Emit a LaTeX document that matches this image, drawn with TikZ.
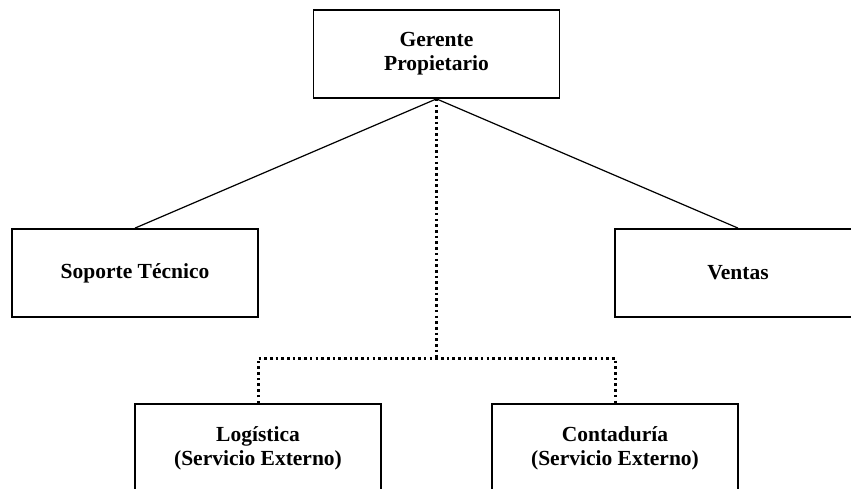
\documentclass[tikz,border=0pt]{standalone}
\usepackage{fontspec}
\setmainfont{Liberation Serif}
\usepackage{tikz}
\usetikzlibrary{positioning}

\begin{document}
\begin{tikzpicture}[x=1pt,y=-1pt,line width=1.2pt,
                    font=\bfseries\fontsize{21.5}{24}\selectfont]
          \tikzstyle{unidad}=[draw,line width=1.8pt,fill=white,inner sep=0pt,
                              minimum width=246pt,minimum height=88pt,
                              align=center]
          \tikzstyle{externo}=[line width=3pt,dash pattern=on 2.6pt off 3.1pt]

          \useasboundingbox (0,0) rectangle (851,489);
          \clip (0,0) rectangle (851,489);

          \node[unidad] (G) at (436.5,54)  {Gerente\\Propietario};
          \node[unidad] (S) at (135,273)   {Soporte T\'ecnico};
          \node[unidad] (V) at (738,273)   {Ventas};
          \node[unidad] (L) at (258,448)   {Log\'istica\\(Servicio Externo)};
          \node[unidad] (C) at (615,448)   {Contadur\'ia\\(Servicio Externo)};

          \path (G.south) edge (S.north)
                          edge (V.north);

          \coordinate (J) at (436.5,358);
          \draw[externo] (G.south) -- (J);
          \draw[externo] (L.north) |- (J) -| (C.north);
\end{tikzpicture}
\end{document}
